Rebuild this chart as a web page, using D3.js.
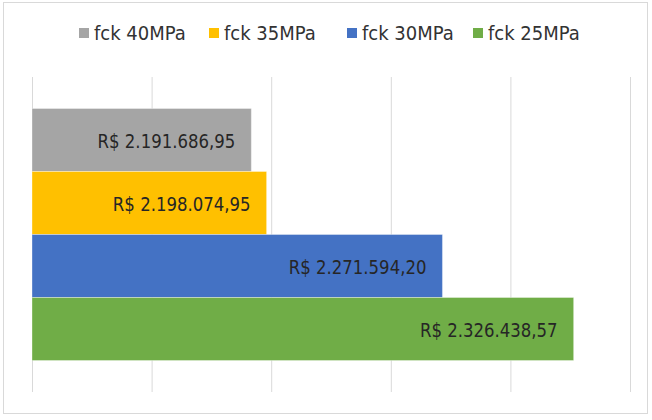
<!DOCTYPE html>
<html>
<head>
<meta charset="utf-8">
<script src="https://cdn.jsdelivr.net/npm/d3@7"></script>
<style>
  html, body { margin: 0; padding: 0; background: #fff; }
  svg { display: block; }
  text { font-family: "Liberation Sans Narrow", "Arial Narrow", "DejaVu Sans Condensed", sans-serif; }
</style>
</head>
<body>
<svg id="chart" width="652" height="420"></svg>
<script>
const categories = ["Custo"];
const seriesNames = ["fck 40MPa", "fck 35MPa", "fck 30MPa", "fck 25MPa"];
const seriesValues = [2191686.95, 2198074.95, 2271594.20, 2326438.57];
const seriesColors = ["#A5A5A5", "#FFC000", "#4472C4", "#70AD47"];
const xTicks = [2100000, 2150000, 2200000, 2250000, 2300000, 2350000];

const svg = d3.select("#chart");
const plot = { left: 32, right: 630, top: 77, bottom: 392 };

// outer chart border
svg.append("rect")
  .attr("x", 3.5).attr("y", 2.5)
  .attr("width", 644).attr("height", 411)
  .attr("fill", "#fff").attr("stroke", "#d9d9d9").attr("stroke-width", 1);

const x = d3.scaleLinear()
  .domain([xTicks[0], xTicks[xTicks.length - 1]])
  .range([plot.left, plot.right]);

const y0 = d3.scaleBand()
  .domain(categories)
  .range([plot.top, plot.bottom])
  .paddingInner(0)
  .paddingOuter(0.125);

const y1 = d3.scaleBand()
  .domain(seriesNames)
  .range([0, y0.bandwidth()]);

// gridlines via axis (no labels)
const gridAxis = d3.axisBottom(x)
  .tickValues(xTicks)
  .tickSize(-(plot.bottom - plot.top))
  .tickFormat("");
const g = svg.append("g")
  .attr("transform", `translate(0,${plot.bottom})`)
  .call(gridAxis);
g.select(".domain").remove();
g.selectAll(".tick line").attr("stroke", "#d9d9d9").attr("stroke-width", 1);

const fmt = v => "R$ " + v.toLocaleString("de-DE", { minimumFractionDigits: 2, maximumFractionDigits: 2 });

const data = seriesNames.map((s, i) => ({ name: s, value: seriesValues[i], color: seriesColors[i], cat: categories[0] }));

const bars = svg.append("g");
bars.selectAll("rect")
  .data(data)
  .enter().append("rect")
  .attr("x", x(xTicks[0]))
  .attr("y", d => y0(d.cat) + y1(d.name))
  .attr("width", d => x(d.value) - x(xTicks[0]))
  .attr("height", y1.bandwidth())
  .attr("fill", d => d.color)
  .attr("stroke", "rgba(255,255,255,0.35)")
  .attr("stroke-width", 1);

bars.selectAll("text")
  .data(data)
  .enter().append("text")
  .attr("transform", d => `translate(${x(d.value) - 16},${y0(d.cat) + y1(d.name) + y1.bandwidth() / 2 + 1}) scale(0.92,1)`)
  .attr("text-anchor", "end")
  .attr("dominant-baseline", "central")
  .attr("font-size", 20)
  .attr("fill", "#262626")
  .text(d => fmt(d.value));

// legend
const legendX = [79, 209, 347, 473];
const legend = svg.append("g");
const items = legend.selectAll("g")
  .data(data)
  .enter().append("g")
  .attr("transform", (d, i) => `translate(${legendX[i]},33)`);
items.append("rect")
  .attr("x", 0).attr("y", -5)
  .attr("width", 10).attr("height", 10)
  .attr("fill", d => d.color);
items.append("text")
  .attr("transform", "translate(15,0)")
  .attr("dominant-baseline", "central")
  .attr("font-size", 20)
  .attr("fill", "#333")
  .text(d => d.name);
</script>
</body>
</html>
